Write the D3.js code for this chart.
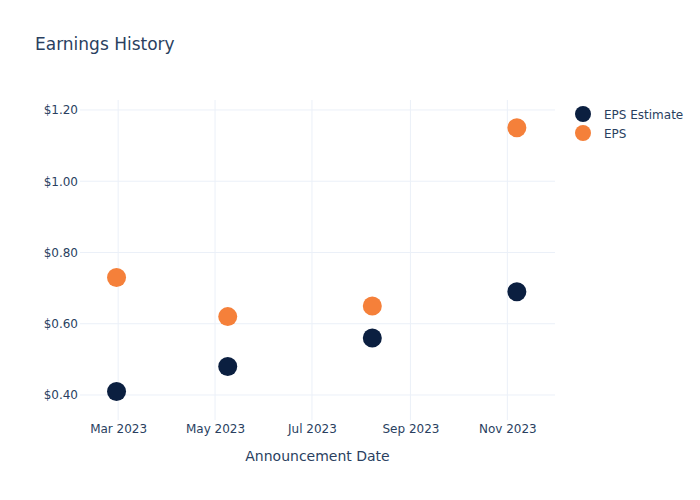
<!DOCTYPE html>
<html>
<head>
<meta charset="utf-8">
<script src="https://cdn.jsdelivr.net/npm/d3@7"></script>
<style>
  html, body { margin: 0; padding: 0; background: #fff; }
  svg { display: block; font-family: "DejaVu Sans", "Open Sans", verdana, arial, sans-serif; }
</style>
</head>
<body>
<div id="chart"></div>
<script>
// ---- Data ----
const dates = ["2023-02-28", "2023-05-09", "2023-08-08", "2023-11-07"];
const epsEstimate = [0.41, 0.48, 0.56, 0.69];
const eps = [0.73, 0.62, 0.65, 1.15];
const seriesNames = ["EPS Estimate", "EPS"];
const seriesColors = ["#0b1f40", "#f5803a"];
const yTicks = [0.4, 0.6, 0.8, 1.0, 1.2];
const xTicks = ["2023-03-01", "2023-05-01", "2023-07-01", "2023-09-01", "2023-11-01"];

const W = 700, H = 500;
const margin = {left: 80, right: 145, top: 100, bottom: 80};
const textColor = "#2a3f5f";
const gridColor = "#ebf0f8";

const parse = d3.utcParse("%Y-%m-%d");
const svg = d3.select("#chart").append("svg").attr("width", W).attr("height", H);

const x = d3.scaleUtc()
  .domain([parse("2023-02-05"), parse("2023-12-01")])
  .range([margin.left, W - margin.right]);
const y = d3.scaleLinear()
  .domain([0.3298, 1.228])
  .range([H - margin.bottom, margin.top]);

// gridlines
const g = svg.append("g");
g.selectAll(".hg").data(yTicks).enter().append("line")
  .attr("x1", margin.left).attr("x2", W - margin.right)
  .attr("y1", d => y(d)).attr("y2", d => y(d))
  .attr("stroke", gridColor).attr("stroke-width", 1);
g.selectAll(".vg").data(xTicks).enter().append("line")
  .attr("x1", d => x(parse(d))).attr("x2", d => x(parse(d)))
  .attr("y1", margin.top).attr("y2", H - margin.bottom)
  .attr("stroke", gridColor).attr("stroke-width", 1);

// y axis
const yAxis = d3.axisLeft(y).tickValues(yTicks).tickSize(0).tickPadding(2)
  .tickFormat(d => "$" + d3.format(".2f")(d));
const ya = svg.append("g").attr("transform", `translate(${margin.left},0)`).call(yAxis);
ya.select(".domain").remove();
ya.selectAll("text").attr("fill", textColor).style("font-size", "12px")
  .style("font-family", "DejaVu Sans, sans-serif");

// x axis
const xAxis = d3.axisBottom(x).tickValues(xTicks.map(parse)).tickSize(0).tickPadding(4)
  .tickFormat(d3.utcFormat("%b %Y"));
const xa = svg.append("g").attr("transform", `translate(0,${H - margin.bottom})`).call(xAxis);
xa.select(".domain").remove();
xa.selectAll("text").attr("fill", textColor).style("font-size", "12px")
  .style("font-family", "DejaVu Sans, sans-serif");

// axis title
svg.append("text")
  .attr("x", (margin.left + W - margin.right) / 2).attr("y", 461)
  .attr("text-anchor", "middle").attr("fill", textColor)
  .style("font-size", "14px").text("Announcement Date");

// title
svg.append("text").attr("x", 35).attr("y", 50)
  .attr("fill", textColor).style("font-size", "17px").text("Earnings History");

// points
const series = [epsEstimate, eps];
series.forEach((vals, si) => {
  svg.append("g").selectAll("circle").data(vals).enter().append("circle")
    .attr("cx", (d, i) => x(parse(dates[i])))
    .attr("cy", d => y(d))
    .attr("r", 9.5)
    .attr("fill", seriesColors[si]);
});

// legend
const leg = svg.append("g");
seriesNames.forEach((name, i) => {
  const ly = 114 + i * 19;
  leg.append("circle").attr("cx", 583).attr("cy", ly).attr("r", 8).attr("fill", seriesColors[i]);
  leg.append("text").attr("x", 604).attr("y", ly + 4.5).attr("fill", textColor)
    .style("font-size", "12px").text(name);
});
</script>
</body>
</html>
